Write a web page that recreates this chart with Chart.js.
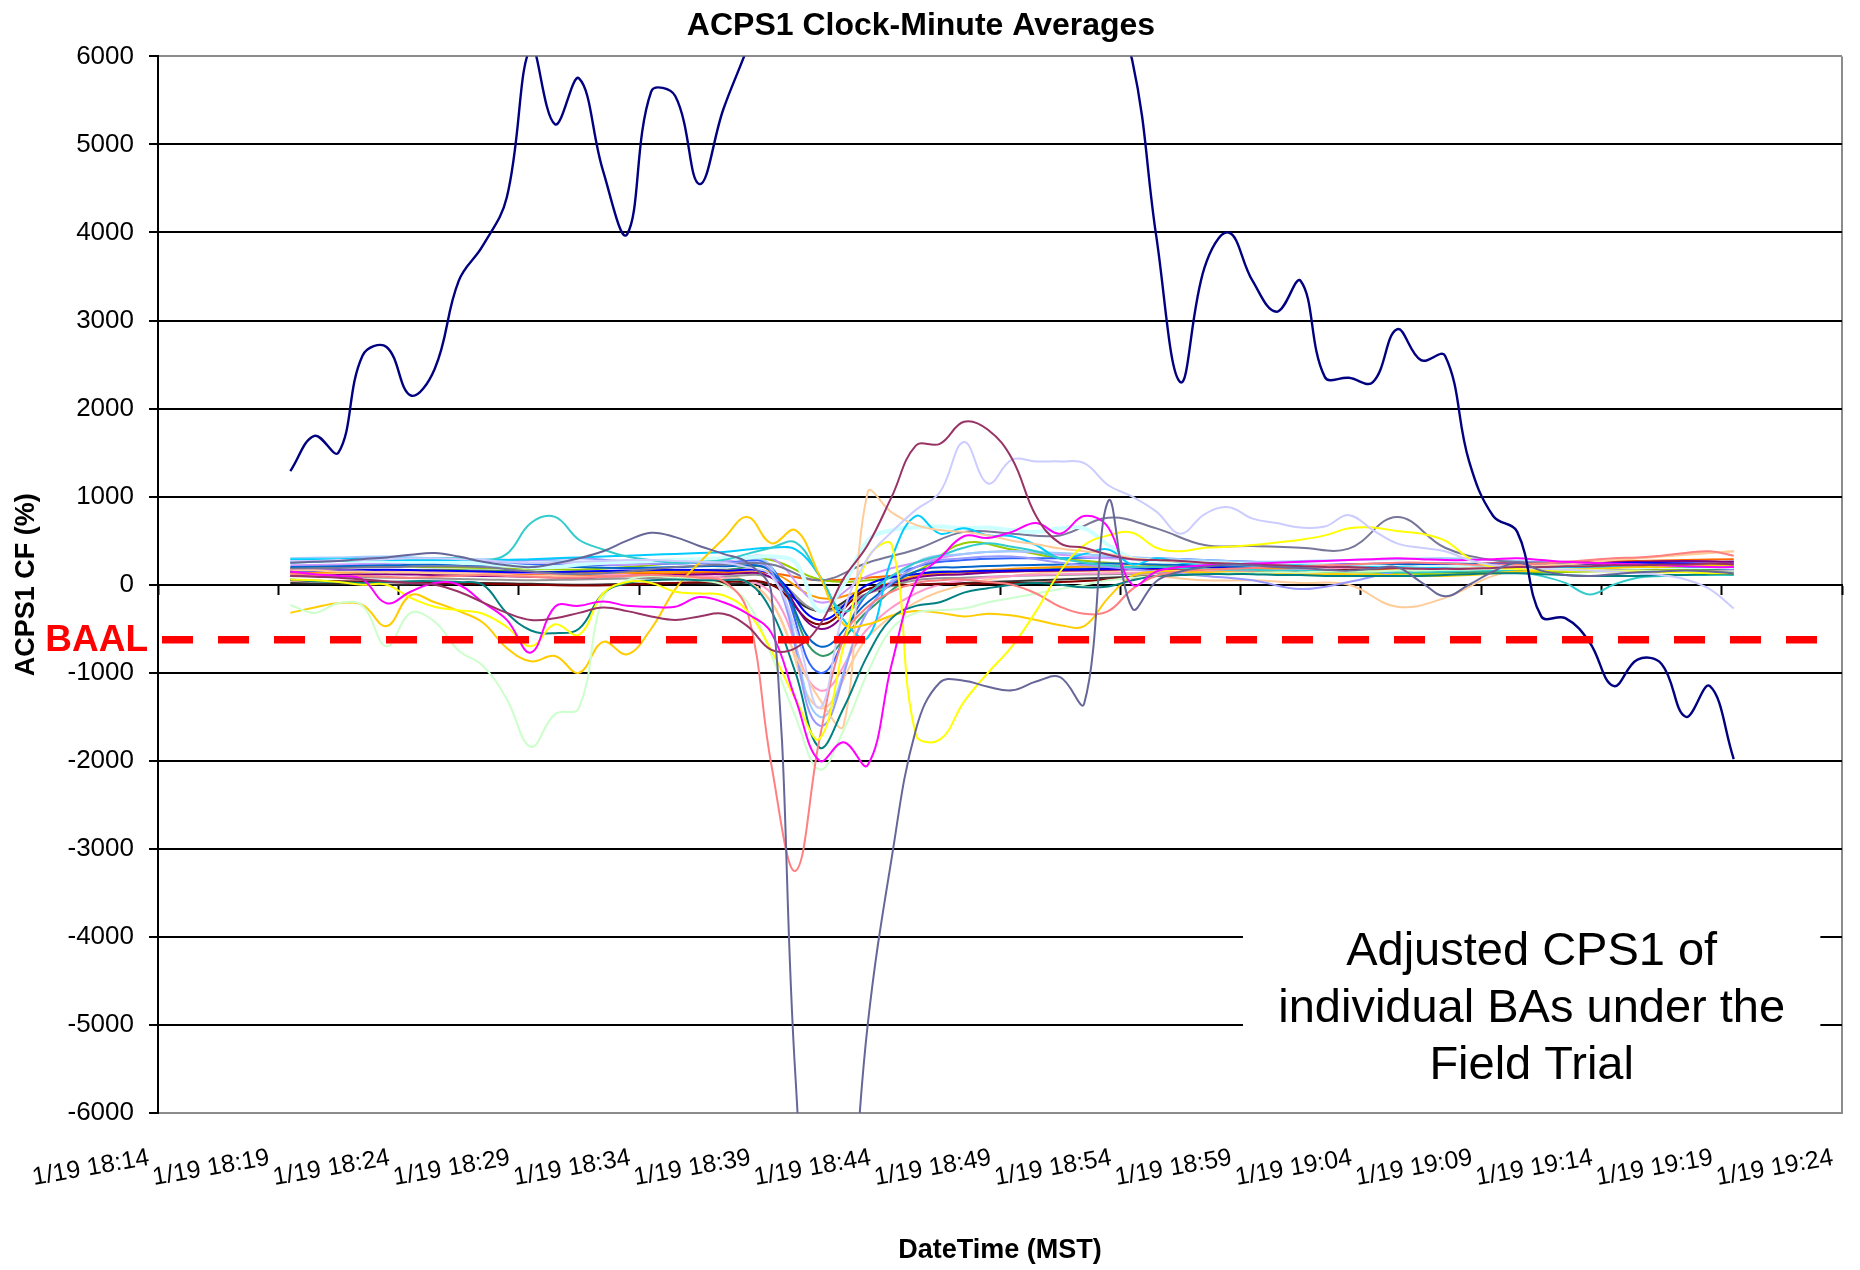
<!DOCTYPE html>
<html>
<head>
<meta charset="utf-8">
<title>ACPS1 Clock-Minute Averages</title>
<script src="https://cdn.jsdelivr.net/npm/chart.js@4.4.1/dist/chart.umd.min.js"></script>
<style>
  html, body { margin: 0; padding: 0; background: #fff; }
  #wrap { width: 1860px; height: 1270px; }
</style>
</head>
<body>
<div id="wrap"><canvas id="chart" width="1860" height="1270"></canvas></div>
<script>
// x values are minutes after 1/19 18:14 (MST)
const tickLabels = [
  "1/19 18:14", "1/19 18:19", "1/19 18:24", "1/19 18:29", "1/19 18:34",
  "1/19 18:39", "1/19 18:44", "1/19 18:49", "1/19 18:54", "1/19 18:59",
  "1/19 19:04", "1/19 19:09", "1/19 19:14", "1/19 19:19", "1/19 19:24",
];
const minutesFine = [
  5.5, 6.5, 7.5, 8.5, 9.5, 10.5, 11.5, 12.5, 13.5, 14.5,
  15.5, 16.5, 17.5, 18.5, 19.5, 20.5, 21.5, 22.5, 23.5, 24.5,
  25.5, 26.5, 27.5, 28.5, 29.5, 30.5, 31.5, 32.5, 33.5, 34.5,
  35.5, 36.5, 37.5, 38.5, 39.5, 40.5, 41.5, 42.5, 43.5, 44.5,
  45.5, 46.5, 47.5, 48.5, 49.5, 50.5, 51.5, 52.5, 53.5, 54.5,
  55.5, 56.5, 57.5, 58.5, 59.5, 60.5, 61.5, 62.5, 63.5, 64.5, 65.5,
];
const minutesCoarse = [
  5.5, 7.5, 9.5, 11.5, 13.5, 15.5, 17.5, 19.5, 21.5, 23.5,
  25.5, 27.5, 29.5, 31.5, 33.5, 35.5, 37.5, 39.5, 41.5, 43.5,
  45.5, 47.5, 49.5, 51.5, 53.5, 55.5, 57.5, 59.5, 61.5, 63.5, 65.5,
];
const baalLevel = -625;
const noteLines = ["Adjusted CPS1 of", "individual BAs under the", "Field Trial"];

// ACPS1 CF (%) per BA, one value per minute
const baNavy = [
  1290, 1690, 1500, 2600, 2700, 2150, 2450, 3450, 3850, 4400,
  6100, 5230, 5750, 4700, 3980, 5600, 5550, 4550, 5400, 6100,
  6900, 7600, 8200, 7700, 8600, 9100, 8400, 8800, 9300, 8600,
  8000, 8500, 7700, 7000, 6500, 5950, 3950, 2300, 3600, 4000,
  3450, 3100, 3450, 2360, 2350, 2300, 2900, 2550, 2600, 1400,
  780, 600, -360, -380, -650, -1150, -850, -900, -1500, -1150, -1980,
];
const baSlate = [
  250, 260, 270, 290, 310, 340, 360, 320, 260, 220,
  200, 240, 300, 380, 500, 590, 540, 440, 350, 250,
  -100, -5600, -9000, -8000, -5000, -3100, -1650, -1110, -1090, -1160,
  -1200, -1100, -1050, -1350, 950, -270, 40, 150, 200, 230,
  220, 200, 190, 170, 160, 180, 200, 30, -130, 0,
  150, 250, 160, 110, 100, 120, 140, 150, 160, 150, 130,
];
const baSalmon = [
  120, 110, 100, 100, 90, 80, 90, 100, 110, 100,
  90, 80, 80, 90, 100, 110, 100, 80, 40, -300,
  -2050, -3250, -1750, -600, -250, -80, 20, 50, 60, 30,
  0, -100, -250, -330, -300, -50, 100, 150, 170, 180,
  190, 200, 210, 220, 230, 240, 250, 250, 240, 230,
  220, 230, 240, 260, 280, 300, 310, 330, 360, 380, 330,
];
const baPlum = [
  100, 90, 80, 60, 40, 20, 0, -80, -200, -320,
  -400, -380, -320, -260, -300, -360, -400, -360, -330, -470,
  -740, -720, -460, 70, 450, 1000, 1580, 1600, 1850, 1760,
  1430, 780, 470, 420, 340, 290, 280, 270, 250, 240,
  230, 220, 210, 200, 200, 190, 190, 180, 180, 180,
  190, 200, 200, 210, 210, 220, 220, 230, 230, 240, 230,
];
const baLavender = [
  270, 270, 280, 280, 290, 300, 300, 290, 280, 260,
  250, 250, 260, 270, 280, 280, 270, 260, 250, 200,
  100, -500, -1400, -300, 300, 600, 850, 1050, 1620, 1150,
  1420, 1400, 1400, 1380, 1130, 1000, 830, 580, 800, 880,
  750, 700, 650, 660, 790, 620, 470, 420, 380, 280,
  220, 200, 180, 170, 160, 150, 130, 110, 60, -50, -270,
];
const baYellow = [
  60, 50, 30, 0, 0, -150, -250, -290, -330, -480,
  -700, -450, -570, -100, 30, 20, -80, -100, -120, -300,
  -750, -1300, -1750, -700, 300, 450, -1700, -1760, -1330, -1000,
  -700, -300, 150, 450, 560, 590, 420, 380, 420, 430,
  450, 480, 510, 560, 640, 650, 610, 580, 500, 300,
  200, 180, 170, 160, 160, 150, 150, 140, 140, 130, 130,
];
const baLightGreen = [
  -230, -320, -210, -240, -700, -320, -420, -750, -920, -1300,
  -1840, -1470, -1400, -150, 50, 100, 80, 50, 0, -200,
  -800, -1500, -2100, -1650, -1000, -500, -320, -290, -270, -200,
  -150, -100, -50, 0, 50, 80, 100, 110, 120, 130,
  130, 140, 140, 150, 150, 150, 160, 160, 170, 170,
  180, 180, 180, 170, 170, 160, 160, 150, 150, 140, 140,
];
const baGold = [
  -320, -260, -210, -230, -470, -120, -200, -300, -430, -720,
  -870, -810, -1000, -650, -790, -500, -50, 250, 520, 770,
  470, 620, 100, -450, -450, -350, -300, -320, -360, -330,
  -350, -400, -460, -470, -150, 100, 150, 150, 140, 140,
  130, 130, 120, 120, 120, 110, 110, 100, 100, 110,
  130, 150, 160, 170, 180, 190, 200, 200, 210, 220, 220,
];
const baMagenta = [
  150, 120, 100, 60, -210, -80, 20, 0, -200, -400,
  -770, -250, -240, -190, -240, -250, -250, -140, -200, -330,
  -550, -1300, -2000, -1790, -2050, -900, 30, 300, 550, 530,
  600, 700, 580, 780, 650, 0, 150, 200, 220, 230,
  240, 250, 260, 270, 280, 290, 300, 290, 280, 280,
  290, 300, 280, 260, 250, 240, 230, 220, 210, 200, 200,
];
const baPeach = [
  160, 160, 150, 150, 140, 140, 130, 130, 120, 110,
  100, 100, 90, 90, 100, 100, 90, 80, 60, 30,
  -200, -800, -1300, -1600, 1050, 820, 680, 620, 600, 560,
  500, 460, 410, 380, 350, 300, 280, 260, 250, 240,
  230, 220, 210, 200, 200, 190, 190, 180, 180, 190,
  200, 210, 220, 230, 250, 280, 300, 320, 340, 360, 380,
];
const baTurquoise = [
  250, 260, 270, 280, 290, 300, 300, 300, 280, 350,
  700, 770, 510, 400, 320, 280, 250, 260, 280, 350,
  420, 480, 100, -300, -100, 100, 250, 330, 420, 470,
  430, 380, 300, 250, 220, 200, 200, 190, 180, 170,
  170, 160, 160, 150, 150, 150, 140, 140, 150, 160,
  160, 150, 100, 20, -110, 0, 80, 100, 110, 110, 110,
];
const baTeal = [
  60, 40, 30, 20, 30, 40, 40, 30, 0, -320,
  -520, -550, -500, -100, 20, 50, 60, 50, 50, 30,
  -300, -1000, -1850, -1400, -800, -380, -240, -200, -90, -40,
  0, 20, 0, -30, -20, 50, 100, 110, 120, 120,
  120, 110, 110, 100, 100, 100, 100, 100, 110, 120,
  130, 130, 120, 110, 100, 100, 100, 110, 110, 120, 120,
];
const baSky = [
  290, 290, 290, 290, 280, 280, 280, 280, 280, 280,
  290, 300, 310, 320, 330, 340, 350, 360, 370, 400,
  420, 400, 100, -400, -600, 300, 780, 580, 640, 560,
  550, 450, 300, 350, 400, 230, 300, 250, 240, 230,
  230, 220, 220, 210, 210, 200, 200, 190, 190, 190,
  200, 200, 200, 200, 200, 200, 200, 200, 200, 200, 200,
];
const baPaleCyan = [
  280, 280, 280, 270, 270, 260, 260, 250, 240, 220,
  200, 200, 230, 250, 260, 270, 280, 290, 300, 310,
  320, 250, -300, 0, 500, 620, 650, 660, 640, 650,
  620, 600, 640, 640, 450, 300, 280, 260, 250, 240,
  230, 230, 220, 220, 210, 210, 200, 200, 200, 200,
  200, 200, 200, 200, 200, 200, 200, 200, 200, 200, 200,
];

// the rest of the BAs, one value every two minutes
const baGray = [180, 190, 200, 210, 200, 150, 120, 150, 200, 230, 230, 50, 250, 400, 600, 580, 560, 760, 640, 450, 440, 420, 410, 770, 420, 280, 250, 240, 230, 220, 220];
const baPeriwinkle = [280, 290, 300, 280, 260, 280, 300, 260, 240, 250, 150, -1600, -300, 200, 300, 320, 250, 200, 150, 100, 50, -50, 30, 150, 200, 230, 210, 190, 190, 200, 180];
const baCobalt = [200, 210, 220, 230, 220, 210, 200, 190, 200, 210, 150, -700, -200, 150, 200, 220, 230, 240, 230, 220, 200, 210, 220, 230, 240, 230, 220, 210, 200, 190, 180];
const baBlue = [150, 160, 170, 160, 150, 140, 150, 160, 170, 160, 120, -400, 0, 120, 150, 160, 170, 180, 190, 200, 210, 220, 230, 240, 230, 220, 230, 240, 250, 240, 230];
const baViolet = [100, 110, 120, 110, 100, 90, 80, 100, 110, 120, 80, -500, -100, 80, 120, 150, 160, 170, 180, 190, 200, 200, 210, 220, 230, 240, 250, 250, 260, 270, 260];
const baMaroon = [50, 40, 30, 20, 10, 0, -10, 0, 20, 30, 0, -450, -50, 0, 10, 20, 30, 60, 100, 120, 130, 150, 170, 190, 210, 220, 230, 220, 210, 200, 190];
const baPowder = [300, 310, 320, 300, 290, 280, 260, 250, 270, 290, 200, -1500, -300, 250, 350, 380, 360, 330, 300, 280, 260, 270, 280, 290, 300, 280, 260, 250, 240, 230, 220];
const baRose = [180, 170, 160, 150, 140, 130, 120, 110, 100, 80, -100, -1200, -500, -100, 50, 100, 120, 130, 140, 150, 160, 170, 180, 190, 200, 210, 220, 230, 240, 230, 220];
const baLilac = [220, 230, 240, 250, 260, 250, 240, 230, 250, 270, 300, -200, 100, 250, 350, 380, 340, 300, 280, 260, 250, 240, 230, 220, 210, 200, 210, 220, 230, 240, 250];
const baRoyal = [260, 270, 260, 250, 240, 230, 220, 230, 240, 250, 200, -1000, -100, 200, 280, 300, 300, 310, 300, 280, 260, 240, 230, 220, 210, 210, 220, 230, 240, 250, 260];
const baLime = [190, 200, 210, 200, 190, 180, 170, 200, 250, 300, 280, 60, 50, 150, 470, 400, 300, 250, 220, 180, 160, 150, 140, 130, 120, 130, 140, 150, 160, 170, 180];
const baOrange = [130, 140, 150, 160, 150, 140, 130, 140, 150, 160, 140, -150, -50, 100, 150, 180, 200, 210, 200, 190, 180, 170, 160, 170, 180, 190, 200, 210, 220, 230, 240];
const baRust = [170, 160, 150, 140, 130, 120, 110, 120, 130, 140, 130, 50, 80, 120, 140, 150, 160, 170, 180, 180, 190, 200, 210, 220, 230, 240, 250, 260, 270, 280, 290];
const baGrey = [100, 90, 80, 70, 60, 50, 60, 70, 80, 90, 80, -300, -100, 50, 80, 100, 110, 120, 130, 140, 150, 160, 170, 180, 190, 200, 190, 180, 170, 160, 150];
const baSea = [140, 150, 160, 170, 160, 150, 140, 150, 160, 170, 150, -800, -300, 100, 150, 170, 180, 190, 200, 190, 180, 170, 160, 150, 140, 150, 160, 170, 180, 190, 200];
const baCharcoal = [20, 10, 0, 10, 20, 10, 0, 10, 20, 10, 0, -300, -50, 0, 20, 40, 60, 80, 100, 120, 140, 150, 160, 170, 180, 190, 200, 210, 200, 190, 180];
const baApricot = [120, 130, 140, 130, 120, 110, 100, 110, 120, 130, -200, -1400, -600, -200, 0, 100, 150, 150, 100, 50, 50, 20, 0, -250, -150, 100, 200, 250, 300, 350, 380];

const series = [
  { values: baNavy, color: "#000080", width: 2.4 },
  { values: baSlate, color: "#666699" },
  { values: baPlum, color: "#993366" },
  { values: baLavender, color: "#CCCCFF" },
  { values: baMagenta, color: "#FF00FF" },
  { values: baYellow, color: "#FFFF00" },
  { values: baSalmon, color: "#FF8080" },
  { values: baTeal, color: "#008080" },
  { values: baLightGreen, color: "#CCFFCC" },
  { values: baGold, color: "#FFCC00" },
  { values: baPeach, color: "#FFCC99" },
  { values: baTurquoise, color: "#33CCCC" },
  { values: baSky, color: "#00CCFF" },
  { values: baPaleCyan, color: "#CCFFFF", width: 4 },
  { values: baGray, color: "#777799", coarse: true },
  { values: baPeriwinkle, color: "#9999FF", coarse: true },
  { values: baCobalt, color: "#0066CC", coarse: true },
  { values: baBlue, color: "#0000FF", coarse: true },
  { values: baViolet, color: "#800080", coarse: true },
  { values: baMaroon, color: "#800000", coarse: true },
  { values: baPowder, color: "#99CCFF", coarse: true },
  { values: baRose, color: "#FF99CC", coarse: true },
  { values: baLilac, color: "#CC99FF", coarse: true },
  { values: baRoyal, color: "#3366FF", coarse: true },
  { values: baLime, color: "#99CC00", coarse: true },
  { values: baOrange, color: "#FF9900", coarse: true },
  { values: baRust, color: "#FF6600", coarse: true },
  { values: baGrey, color: "#969696", coarse: true },
  { values: baSea, color: "#339966", coarse: true },
  { values: baCharcoal, color: "#333333", coarse: true },
  { values: baApricot, color: "#FFCC99", coarse: true },
];

const datasets = [
  {
    label: "BAAL",
    data: [{ x: 0, y: baalLevel }, { x: 70, y: baalLevel }],
    borderColor: "#FF0000",
    borderWidth: 7.5,
    borderDash: [31, 25],
    borderDashOffset: -4,
    tension: 0,
  },
].concat(series.map((s, n) => {
  const times = s.coarse ? minutesCoarse : minutesFine;
  return {
    label: "BA " + (n + 1),
    data: times.map((m, i) => ({ x: m, y: s.values[i] })),
    borderColor: s.color,
    borderWidth: s.width || 2,
  };
}));

// white note box and the red BAAL tag
const notePlugin = {
  id: "note",
  afterDatasetsDraw(chart) {
    const { ctx } = chart;
    const x = chart.scales.x;
    const y = chart.scales.y;
    const left = x.getPixelForValue(45.1);
    const right = x.getPixelForValue(69.1);
    const top = y.getPixelForValue(-3600);
    const bottom = y.getPixelForValue(-5900);
    ctx.save();
    ctx.fillStyle = "#fff";
    ctx.fillRect(left, top, right - left, bottom - top);
    ctx.fillStyle = "#000";
    ctx.font = '47px "Liberation Sans", Arial, sans-serif';
    ctx.textAlign = "center";
    ctx.textBaseline = "middle";
    noteLines.forEach((t, i) => ctx.fillText(t, (left + right) / 2, top + 50 + i * 57));
    ctx.fillStyle = "#FF0000";
    ctx.font = 'bold 37px "Liberation Sans", Arial, sans-serif';
    ctx.textAlign = "right";
    ctx.fillText("BAAL", x.left - 10, y.getPixelForValue(baalLevel) + 1);
    ctx.restore();
  },
};

Chart.defaults.font.family = '"Liberation Sans", Arial, Helvetica, sans-serif';
Chart.defaults.color = "#000";

new Chart(document.getElementById("chart"), {
  type: "line",
  data: { datasets },
  plugins: [notePlugin],
  options: {
    responsive: false,
    animation: false,
    devicePixelRatio: 1,
    layout: { padding: { left: 0, right: 18, top: 0, bottom: 0 } },
    elements: {
      point: { radius: 0 },
      line: { tension: 0.4, borderWidth: 2 },
    },
    plugins: {
      legend: { display: false },
      tooltip: { enabled: false },
      title: {
        display: true,
        text: "ACPS1 Clock-Minute Averages",
        color: "#000",
        font: { size: 32, weight: "bold" },
        padding: { top: 7, bottom: 11 },
      },
    },
    scales: {
      x: {
        type: "linear",
        min: 0,
        max: 70,
        afterFit(scale) {
          scale.height = 157;
          scale.paddingLeft = 0;
          scale.paddingRight = 0;
        },
        ticks: {
          stepSize: 5,
          autoSkip: false,
          maxRotation: 10,
          minRotation: 10,
          padding: 30,
          labelOffset: -9,
          color: "#000",
          font: { size: 25 },
          callback: (v) => tickLabels[Math.round(v / 5)],
        },
        grid: {
          drawTicks: false,
          lineWidth: 2,
          color: (c) => (c.tick && c.tick.value === 70 ? "#8c8c8c" : "rgba(0,0,0,0)"),
        },
        border: { color: "#8c8c8c", width: 2 },
        title: {
          display: true,
          text: "DateTime (MST)",
          color: "#000",
          font: { size: 27, weight: "bold" },
          padding: { top: 0, bottom: 3 },
        },
      },
      x0: {
        type: "linear",
        position: { y: 0 },
        min: 0,
        max: 70,
        ticks: { display: false, stepSize: 5 },
        grid: { drawOnChartArea: false, drawTicks: true, tickLength: 9, tickColor: "#000", tickWidth: 2 },
        border: { color: "#000", width: 2 },
      },
      y: {
        min: -6000,
        max: 6000,
        afterFit(scale) { scale.width = 158; },
        ticks: {
          stepSize: 1000,
          padding: 15,
          color: "#000",
          font: { size: 26 },
          callback: (v) => String(v),
        },
        grid: {
          lineWidth: 2,
          color: (c) => (c.tick && Math.abs(c.tick.value) === 6000 ? "#8c8c8c" : "#000"),
          drawTicks: true,
          tickLength: 9,
          tickColor: "#000",
          tickWidth: 2,
        },
        border: { color: "#000", width: 2 },
        title: {
          display: true,
          text: "ACPS1 CF (%)",
          color: "#000",
          font: { size: 27, weight: "bold" },
          padding: { top: 10, bottom: 0 },
        },
      },
    },
  },
});
</script>
</body>
</html>
